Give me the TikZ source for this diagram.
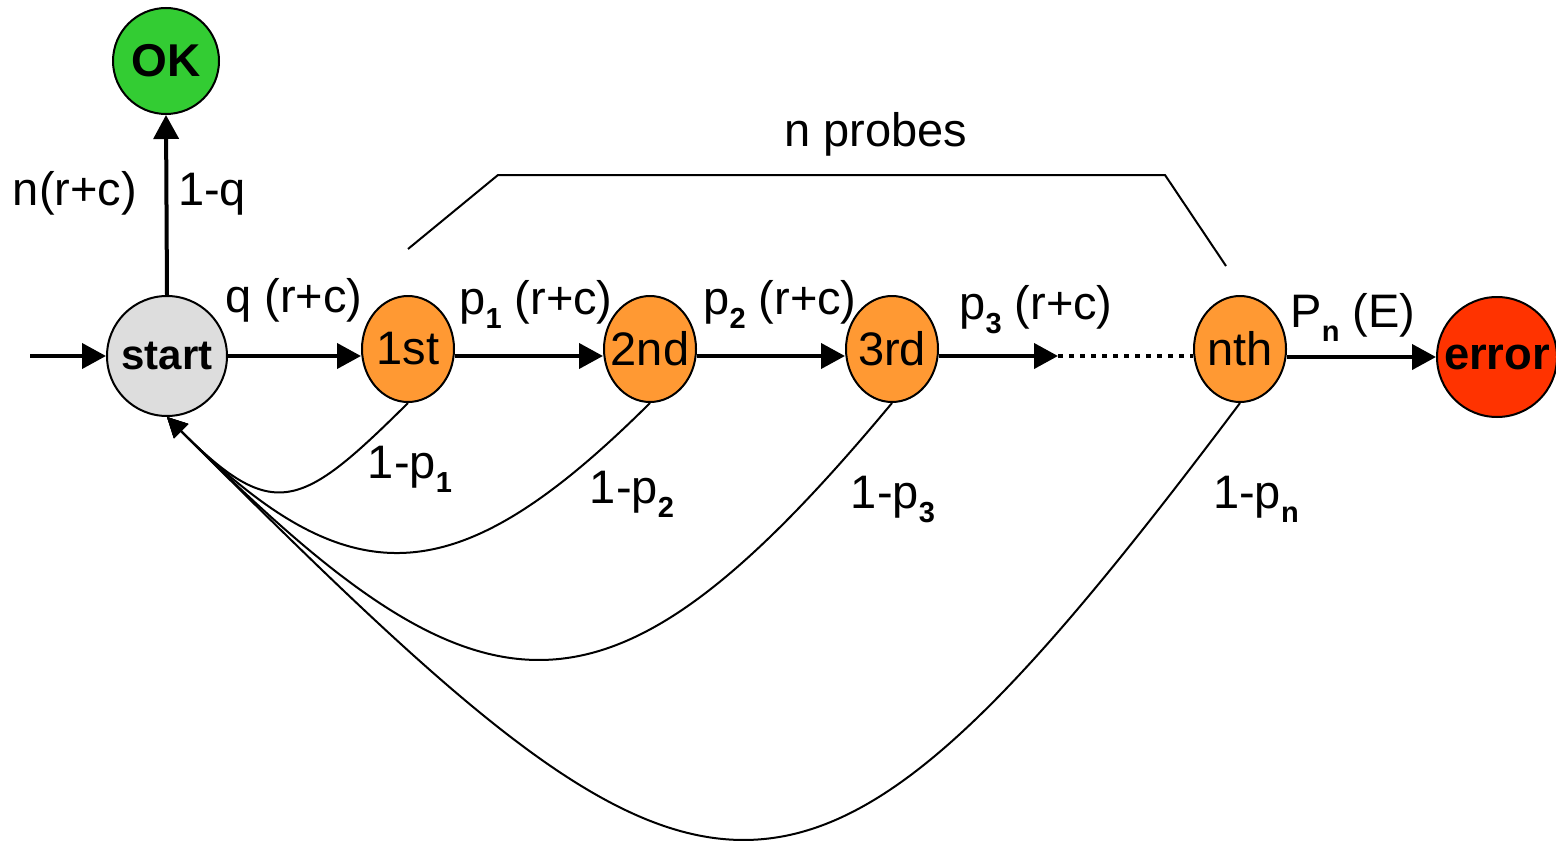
\documentclass[tikz,border=0pt]{standalone}
\usepackage{fontspec}
\setmainfont{Liberation Sans}
\usetikzlibrary{arrows.meta,shapes.geometric}
\newcommand\sbs[1]{\raisebox{-7pt}{\fontsize{14.5}{15}\selectfont\bfseries #1}}
\definecolor{okgreen}{HTML}{33CC33}
\definecolor{startgray}{HTML}{DDDDDD}
\definecolor{probeorange}{HTML}{FF9933}
\definecolor{errred}{HTML}{FF3300}
\begin{document}
\begin{tikzpicture}[x=0.5pt,y=-0.5pt,
  circnode/.style={circle,draw,line width=1pt,inner sep=0pt},
  probe/.style={ellipse,draw,line width=1pt,fill=probeorange,minimum width=46pt,minimum height=53pt,inner sep=-4pt,font=\fontsize{23.5}{28}\selectfont},
  lbl/.style={inner sep=0pt,anchor=base,font=\fontsize{23.5}{28}\selectfont},
  fwd/.style={line width=2pt,-{Triangle[length=12pt,width=12.5pt]}},
  back/.style={line width=1pt,-{Triangle[length=10pt,width=10pt]}}]
\useasboundingbox (0,0) rectangle (1556,840);
% states
\node[circnode,fill=okgreen,minimum size=53pt,font=\bfseries\fontsize{23}{28}\selectfont] (ok) at (166,61) {OK};
\node[circnode,fill=startgray,minimum size=60pt,font=\bfseries\fontsize{21}{26}\selectfont] (start) at (167,356) {start};
\node[probe] (p1) at (408,349) {1st};
\node[probe] (p2) at (650,349) {2nd};
\node[probe] (p3) at (892,349) {3rd};
\node[probe] (pn) at (1240,349) {nth};
\node[circnode,fill=errred,minimum size=60pt,font=\bfseries\fontsize{22.7}{28}\selectfont] (err) at (1497,357) {error};
% forward connectors
\coordinate (entry) at (30,356);
\coordinate (dotend) at (1058,356);
\draw[fwd] (entry) -- (start.west);
\draw[fwd] (start.north) -- (ok.south);
\draw[fwd] (start.east) -- (p1.west |- start.east);
\draw[fwd] (p1.east |- start.east) -- (p2.west |- start.east);
\draw[fwd] (p2.east |- start.east) -- (p3.west |- start.east);
\draw[fwd] (p3.east |- start.east) -- (dotend);
\draw[line width=2pt,dash pattern=on 2.5pt off 3pt] (dotend) -- (pn.west |- start.east);
\draw[fwd] (pn.east |- err.west) -- (err.west);
% return connectors
\draw[back] (p1.south) .. controls (301,509) and (274,524) .. (start.south);
\draw[back] (p2.south) .. controls (457,595) and (351,601) .. (start.south);
\draw[back] (p3.south) .. controls (604,749) and (483,733) .. (start.south);
\draw[back] (pn.south) .. controls (792,999) and (713,963) .. (start.south);
% bracket
\coordinate (b1) at (408,249);
\coordinate (b2) at (498,175);
\coordinate (b3) at (1165,175);
\coordinate (b4) at (1226,266);
\draw[line width=1pt] (b1) -- (b2) -- (b3) -- (b4);
% labels
\node[lbl] (lnp) at (876,146) {n probes};
\node[lbl] (lnrc) at (75,205) {n(r+c)};
\node[lbl] (l1q) at (212,205) {1-q};
\node[lbl] (lq) at (294,312) {q (r+c)};
\node[lbl] (lp1) at (536,314) {p\sbs{1} (r+c)};
\node[lbl] (lp2) at (780,314) {p\sbs{2} (r+c)};
\node[lbl] (lp3) at (1036,319) {p\sbs{3} (r+c)};
\node[lbl] (lpn) at (1353,327) {P\sbs{n} (E)};
\node[lbl] (lr1) at (410,478) {1-p\sbs{1}};
\node[lbl] (lr2) at (632,503) {1-p\sbs{2}};
\node[lbl] (lr3) at (893,508) {1-p\sbs{3}};
\node[lbl] (lrn) at (1256,508) {1-p\sbs{n}};
\end{tikzpicture}
\end{document}
